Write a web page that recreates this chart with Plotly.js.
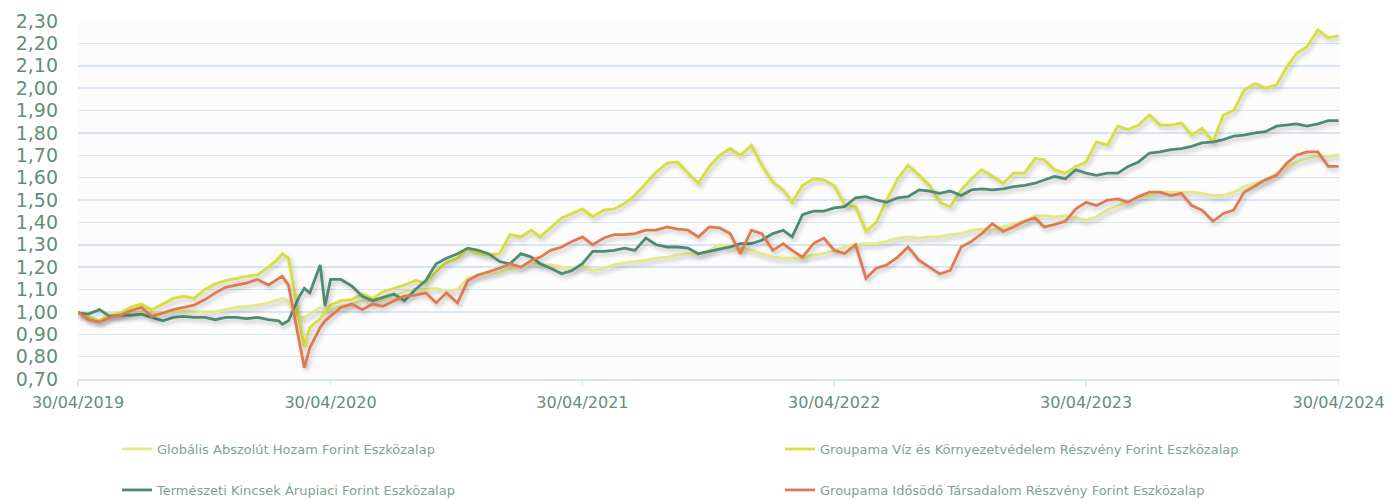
<!DOCTYPE html>
<html>
<head>
<meta charset="utf-8">
<script src="https://cdn.plot.ly/plotly-3.0.1.min.js"></script>
<style>
html,body{margin:0;padding:0;background:#fff;}
#chart{width:1395px;height:500px;}
</style>
</head>
<body>
<div id="chart"></div>
<script>
// ---- data ----
const dates = [
"2019-04-30","2019-05-15","2019-05-31","2019-06-15","2019-06-30","2019-07-15","2019-07-31","2019-08-15","2019-08-31","2019-09-15",
"2019-09-30","2019-10-15","2019-10-31","2019-11-15","2019-11-30","2019-12-15","2019-12-31","2020-01-15","2020-01-31","2020-02-15",
"2020-02-20","2020-02-29","2020-03-09","2020-03-15","2020-03-23","2020-03-31","2020-04-15","2020-04-22","2020-04-30",
"2020-05-15","2020-05-31","2020-06-15","2020-06-30","2020-07-15","2020-07-31",
"2020-08-15","2020-08-31","2020-09-15","2020-09-30","2020-10-15","2020-10-31","2020-11-15","2020-11-30","2020-12-15","2020-12-31",
"2021-01-15","2021-01-31","2021-02-15","2021-02-28","2021-03-15","2021-03-31","2021-04-15","2021-04-30","2021-05-15","2021-05-31",
"2021-06-15","2021-06-30","2021-07-15","2021-07-31","2021-08-15","2021-08-31","2021-09-15","2021-09-30","2021-10-15","2021-10-31",
"2021-11-15","2021-11-30","2021-12-15","2021-12-31","2022-01-15","2022-01-31","2022-02-15","2022-02-28","2022-03-15","2022-03-31",
"2022-04-15","2022-04-30","2022-05-15","2022-05-31","2022-06-15","2022-06-30","2022-07-15","2022-07-31","2022-08-15","2022-08-31",
"2022-09-15","2022-09-30","2022-10-15","2022-10-31","2022-11-15","2022-11-30","2022-12-15","2022-12-31","2023-01-15","2023-01-31",
"2023-02-15","2023-02-28","2023-03-15","2023-03-31","2023-04-15","2023-04-30","2023-05-15","2023-05-31","2023-06-15","2023-06-30",
"2023-07-15","2023-07-31","2023-08-15","2023-08-31","2023-09-15","2023-09-30","2023-10-15","2023-10-31","2023-11-15","2023-11-30",
"2023-12-15","2023-12-31","2024-01-15","2024-01-31","2024-02-15","2024-02-29","2024-03-15","2024-03-31","2024-04-15","2024-04-30"
];

const globalis = [
1.00,0.975,0.96,0.985,0.99,0.995,1.00,0.995,0.995,1.00,
1.005,1.00,1.00,1.00,1.01,1.02,1.025,1.03,1.04,1.055,
1.06,1.05,1.00,0.975,0.975,0.99,1.02,1.015,1.01,
1.025,1.035,1.05,1.05,1.055,1.07,
1.09,1.10,1.10,1.105,1.09,1.10,1.15,1.165,1.17,1.18,
1.195,1.20,1.215,1.21,1.21,1.20,1.195,1.205,1.185,1.195,
1.21,1.22,1.225,1.23,1.24,1.245,1.255,1.26,1.255,1.275,
1.30,1.29,1.285,1.275,1.26,1.245,1.24,1.24,1.24,1.255,
1.26,1.275,1.29,1.30,1.305,1.305,1.315,1.33,1.335,1.33,
1.335,1.335,1.345,1.35,1.365,1.37,1.365,1.38,1.395,1.405,
1.43,1.43,1.425,1.43,1.42,1.41,1.425,1.455,1.475,1.49,
1.515,1.52,1.535,1.535,1.535,1.535,1.53,1.52,1.52,1.535,
1.56,1.575,1.59,1.62,1.65,1.67,1.685,1.695,1.695,1.70
];

const viz = [
1.00,0.975,0.96,0.985,0.995,1.02,1.035,1.01,1.035,1.06,
1.07,1.06,1.10,1.125,1.14,1.15,1.16,1.165,1.20,1.24,
1.26,1.24,1.09,0.97,0.845,0.93,0.97,1.00,1.03,
1.05,1.055,1.08,1.06,1.09,1.105,
1.12,1.14,1.13,1.18,1.22,1.24,1.28,1.26,1.255,1.26,
1.345,1.335,1.365,1.335,1.375,1.42,1.44,1.46,1.425,1.455,
1.46,1.485,1.52,1.575,1.625,1.665,1.67,1.62,1.575,1.65,
1.70,1.73,1.70,1.745,1.655,1.58,1.545,1.49,1.565,1.595,
1.59,1.565,1.48,1.47,1.36,1.40,1.50,1.595,1.655,1.61,
1.565,1.49,1.47,1.545,1.595,1.635,1.605,1.575,1.62,1.62,
1.685,1.68,1.635,1.62,1.65,1.67,1.76,1.745,1.83,1.815,
1.835,1.88,1.835,1.835,1.845,1.79,1.82,1.76,1.88,1.90,
1.99,2.02,2.00,2.015,2.095,2.155,2.185,2.26,2.225,2.235
];

const termeszeti = [
0.995,0.99,1.01,0.98,0.985,0.985,0.99,0.975,0.96,0.975,
0.98,0.975,0.975,0.965,0.975,0.975,0.97,0.975,0.965,0.96,
0.945,0.96,1.02,1.065,1.105,1.085,1.21,1.025,1.145,
1.145,1.115,1.07,1.05,1.065,1.08,
1.05,1.10,1.14,1.215,1.24,1.26,1.285,1.275,1.26,1.225,
1.215,1.26,1.245,1.215,1.195,1.17,1.185,1.215,1.27,1.27,
1.275,1.285,1.275,1.33,1.30,1.29,1.29,1.285,1.26,1.27,
1.28,1.29,1.305,1.305,1.32,1.35,1.365,1.335,1.435,1.45,
1.45,1.465,1.47,1.51,1.515,1.50,1.49,1.51,1.515,1.545,
1.54,1.53,1.54,1.52,1.545,1.55,1.545,1.55,1.56,1.565,
1.575,1.59,1.605,1.595,1.635,1.62,1.61,1.62,1.62,1.65,
1.67,1.71,1.715,1.725,1.73,1.74,1.755,1.76,1.77,1.785,
1.79,1.80,1.805,1.83,1.835,1.84,1.83,1.84,1.855,1.855
];

const idosodo = [
1.00,0.965,0.955,0.975,0.985,1.005,1.02,0.98,0.995,1.01,
1.02,1.03,1.055,1.085,1.11,1.12,1.13,1.145,1.12,1.15,
1.16,1.12,0.97,0.88,0.75,0.84,0.93,0.96,0.98,
1.02,1.035,1.01,1.035,1.025,1.05,
1.07,1.075,1.085,1.04,1.085,1.04,1.14,1.165,1.18,1.195,
1.215,1.20,1.23,1.245,1.275,1.29,1.315,1.335,1.30,1.33,
1.345,1.345,1.35,1.365,1.365,1.38,1.37,1.365,1.335,1.38,
1.375,1.35,1.26,1.365,1.35,1.275,1.305,1.275,1.245,1.305,
1.33,1.275,1.26,1.30,1.15,1.195,1.21,1.245,1.29,1.23,
1.20,1.17,1.185,1.29,1.315,1.35,1.395,1.36,1.38,1.405,
1.42,1.38,1.39,1.405,1.46,1.49,1.475,1.50,1.505,1.49,
1.515,1.535,1.535,1.52,1.53,1.475,1.455,1.405,1.44,1.455,
1.535,1.565,1.59,1.61,1.665,1.70,1.715,1.715,1.65,1.65
];

const seriesNames = [
"Globális Abszolút Hozam Forint Eszközalap",
"Groupama Víz és Környezetvédelem Részvény Forint Eszközalap",
"Természeti Kincsek Árupiaci Forint Eszközalap",
"Groupama Idősödő Társadalom Részvény Forint Eszközalap"
];

const xTickVals = ["2019-04-30","2020-04-30","2021-04-30","2022-04-30","2023-04-30","2024-04-30"];
const xTickText = ["30/04/2019","30/04/2020","30/04/2021","30/04/2022","30/04/2023","30/04/2024"];
const yTickVals = [0.7,0.8,0.9,1.0,1.1,1.2,1.3,1.4,1.5,1.6,1.7,1.8,1.9,2.0,2.1,2.2,2.3];
const yTickText = ["0,70","0,80","0,90","1,00","1,10","1,20","1,30","1,40","1,50","1,60","1,70","1,80","1,90","2,00","2,10","2,20","2,30"];

// ---- styles ----
const colors = ["#e3e98a", "#d5e03a", "#4f8a73", "#e07a4e"];
const legendIds = ["legend", "legend2", "legend3", "legend4"];
// legend slots: [left px, centre y px] in the 1395x500 frame (2 columns x 2 rows)
const legendSlots = [[117, 449], [780, 449], [117, 490], [780, 490]];
const values = [globalis, viz, termeszeti, idosodo];

const traces = values.map((v, k) => ({
  type: "scatter",
  mode: "lines",
  x: dates,
  y: v,
  name: seriesNames[k],
  legend: legendIds[k],
  line: {color: colors[k], width: 2.8},
  hoverinfo: "skip"
}));

const tickColor = "#5f8f7b";
const gridColor = "#dae5f2";
const legendFont = {family: "DejaVu Sans, sans-serif", size: 13, color: "#7fa293"};

const layout = {
  width: 1395,
  height: 500,
  margin: {l: 78, r: 55, t: 21, b: 121},
  paper_bgcolor: "#ffffff",
  plot_bgcolor: "#fcfcfc",
  showlegend: true,
  xaxis: {
    type: "date",
    range: ["2019-04-30", "2024-05-02"],
    tickvals: xTickVals,
    ticktext: xTickText,
    showgrid: false,
    zeroline: false,
    showline: true,
    linecolor: gridColor,
    linewidth: 1.5,
    ticks: "outside",
    ticklen: 5,
    tickcolor: gridColor,
    tickwidth: 1.5,
    tickfont: {family: "DejaVu Sans, sans-serif", size: 16, color: tickColor},
    ticklabelstandoff: 3,
    fixedrange: true
  },
  yaxis: {
    range: [0.7, 2.3],
    tickvals: yTickVals,
    ticktext: yTickText,
    showgrid: true,
    gridcolor: gridColor,
    gridwidth: 1.5,
    zeroline: false,
    showline: false,
    ticks: "",
    tickfont: {family: "DejaVu Sans, sans-serif", size: 19, color: tickColor},
    ticklabelstandoff: 19,
    fixedrange: true
  }
};

legendIds.forEach((id, k) => {
  layout[id] = {
    orientation: "h",
    xref: "container", yref: "container",
    x: legendSlots[k][0] / 1395, y: 1 - legendSlots[k][1] / 500,
    xanchor: "left", yanchor: "middle",
    font: legendFont,
    bgcolor: "rgba(0,0,0,0)",
    itemclick: false, itemdoubleclick: false
  };
});

Plotly.newPlot("chart", traces, layout, {displayModeBar: false, staticPlot: true}).then(gd => {
  gd.querySelectorAll(".scatterlayer .trace").forEach(g => {
    g.style.filter = "drop-shadow(2px 3px 2px rgba(0,0,0,0.22))";
  });
});
</script>
</body>
</html>
